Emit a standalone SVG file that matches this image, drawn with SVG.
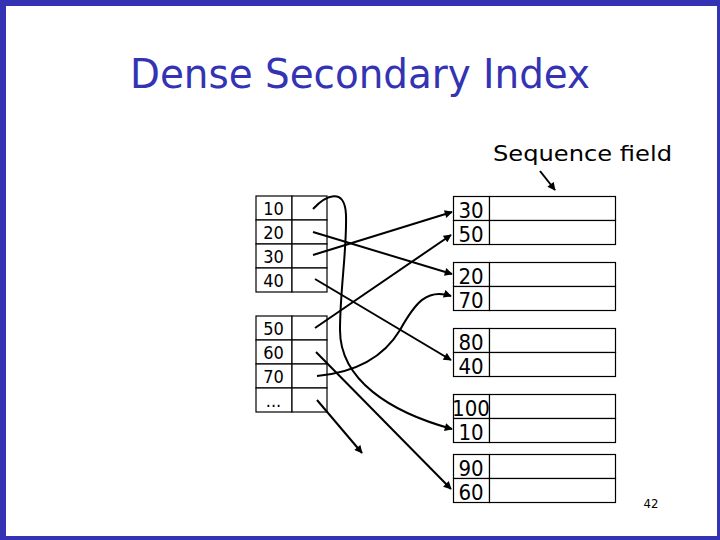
<svg xmlns="http://www.w3.org/2000/svg" width="720" height="540" viewBox="0 0 720 540">
<defs>
<marker id="ah" viewBox="0 0 10 10" refX="9" refY="5" markerWidth="4.5" markerHeight="4" orient="auto" markerUnits="strokeWidth">
<path d="M0,0 L10,5 L0,10 z" fill="#000"/>
</marker>
<style>
.frame{fill:#3333B3}
.title{font-family:"DejaVu Sans Condensed","DejaVu Sans",sans-serif;font-stretch:condensed;font-size:40px;fill:#3333B3}
.lbl{font-family:"DejaVu Sans Condensed","DejaVu Sans",sans-serif;font-stretch:condensed;fill:#000}
.s{font-size:18px;text-anchor:middle}
.b{font-size:22px;text-anchor:middle}
.cell{fill:#fff;stroke:#000;stroke-width:1.2}
.ln{fill:none;stroke:#000;stroke-width:2;marker-end:url(#ah)}
</style>
</defs>
<rect width="720" height="540" fill="#fff"/>
<rect class="frame" x="0" y="0" width="720" height="6"/>
<rect class="frame" x="0" y="0" width="6" height="540"/>
<rect class="frame" x="717" y="0" width="3" height="540"/>
<rect class="frame" x="0" y="536" width="720" height="4"/>
<text class="title" x="130" y="88" textLength="460" lengthAdjust="spacingAndGlyphs">Dense Secondary Index</text>
<text class="lbl" x="493" y="161" font-size="22" textLength="179" lengthAdjust="spacingAndGlyphs">Sequence field</text>

<g id="index1">
<rect class="cell" x="256" y="196" width="36" height="24"/><rect class="cell" x="292" y="196" width="35" height="24"/>
<rect class="cell" x="256" y="220" width="36" height="24"/><rect class="cell" x="292" y="220" width="35" height="24"/>
<rect class="cell" x="256" y="244" width="36" height="24"/><rect class="cell" x="292" y="244" width="35" height="24"/>
<rect class="cell" x="256" y="268" width="36" height="24"/><rect class="cell" x="292" y="268" width="35" height="24"/>
<text class="lbl s" x="273.5" y="215">10</text>
<text class="lbl s" x="273.5" y="239">20</text>
<text class="lbl s" x="273.5" y="263">30</text>
<text class="lbl s" x="273.5" y="287">40</text>
</g>
<g id="index2">
<rect class="cell" x="256" y="316" width="36" height="24"/><rect class="cell" x="292" y="316" width="35" height="24"/>
<rect class="cell" x="256" y="340" width="36" height="24"/><rect class="cell" x="292" y="340" width="35" height="24"/>
<rect class="cell" x="256" y="364" width="36" height="24"/><rect class="cell" x="292" y="364" width="35" height="24"/>
<rect class="cell" x="256" y="388" width="36" height="24"/><rect class="cell" x="292" y="388" width="35" height="24"/>
<text class="lbl s" x="273.5" y="335">50</text>
<text class="lbl s" x="273.5" y="359">60</text>
<text class="lbl s" x="273.5" y="383">70</text>
<text class="lbl s" x="273.5" y="407">...</text>
</g>

<g id="block1">
<rect class="cell" x="453.5" y="196.5" width="36" height="24"/><rect class="cell" x="489.5" y="196.5" width="126" height="24"/>
<rect class="cell" x="453.5" y="220.5" width="36" height="24"/><rect class="cell" x="489.5" y="220.5" width="126" height="24"/>
<text class="lbl b" x="471" y="218">30</text>
<text class="lbl b" x="471" y="242">50</text>
</g>
<g id="block2">
<rect class="cell" x="453.5" y="262.5" width="36" height="24"/><rect class="cell" x="489.5" y="262.5" width="126" height="24"/>
<rect class="cell" x="453.5" y="286.5" width="36" height="24"/><rect class="cell" x="489.5" y="286.5" width="126" height="24"/>
<text class="lbl b" x="471" y="284">20</text>
<text class="lbl b" x="471" y="308">70</text>
</g>
<g id="block3">
<rect class="cell" x="453.5" y="328.5" width="36" height="24"/><rect class="cell" x="489.5" y="328.5" width="126" height="24"/>
<rect class="cell" x="453.5" y="352.5" width="36" height="24"/><rect class="cell" x="489.5" y="352.5" width="126" height="24"/>
<text class="lbl b" x="471" y="350">80</text>
<text class="lbl b" x="471" y="374">40</text>
</g>
<g id="block4">
<rect class="cell" x="453.5" y="394.5" width="36" height="24"/><rect class="cell" x="489.5" y="394.5" width="126" height="24"/>
<rect class="cell" x="453.5" y="418.5" width="36" height="24"/><rect class="cell" x="489.5" y="418.5" width="126" height="24"/>
<text class="lbl b" x="471" y="416">100</text>
<text class="lbl b" x="471" y="440">10</text>
</g>
<g id="block5">
<rect class="cell" x="453.5" y="454.5" width="36" height="24"/><rect class="cell" x="489.5" y="454.5" width="126" height="24"/>
<rect class="cell" x="453.5" y="478.5" width="36" height="24"/><rect class="cell" x="489.5" y="478.5" width="126" height="24"/>
<text class="lbl b" x="471" y="476">90</text>
<text class="lbl b" x="471" y="500">60</text>
</g>

<g id="connectors">
<path class="ln" d="M540,171 L555,190"/>
<path class="ln" d="M313,209 C325,196 345,186 346,215 C347,250 340,290 340,330 C340,380 390,412 452,429"/>
<path class="ln" d="M313,232 L452,274"/>
<path class="ln" d="M313,255 L452,212"/>
<path class="ln" d="M315,279 L451,360"/>
<path class="ln" d="M315,328 L451,235"/>
<path class="ln" d="M316,352 L451,489"/>
<path class="ln" d="M317,376 C360,372 385,355 400,330 C415,303 427,288 451,296"/>
<path class="ln" d="M317,400 L362,453"/>
</g>

<text x="651" y="508" font-family="'DejaVu Sans Condensed','DejaVu Sans',sans-serif" font-size="13" text-anchor="middle" fill="#000">42</text>
</svg>
